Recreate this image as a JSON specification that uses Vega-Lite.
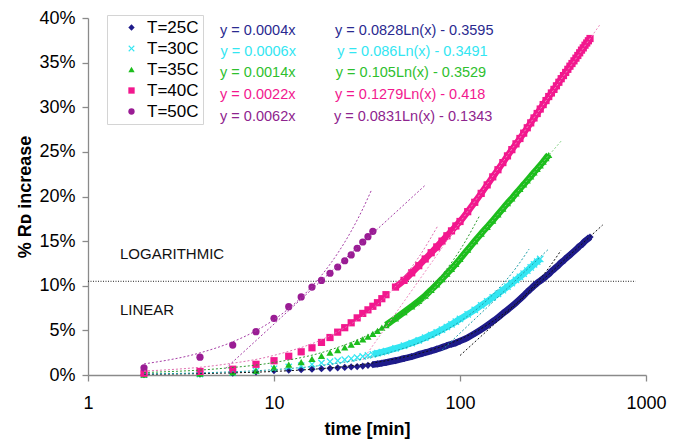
{
"$schema": "https://vega.github.io/schema/vega-lite/v6.json",
"width": 558, "height": 357,
"autosize": {"type": "none"},
"padding": {"left": 88, "top": 18, "right": 33, "bottom": 66},
"background": "white",
"config": {"font": "Liberation Sans", "view": {"stroke": null},
 "axis": {"grid": false, "domainColor": "#8a8a8a", "tickColor": "#8a8a8a", "domainWidth": 1.3, "tickWidth": 1.3, "tickSize": 6, "labelFont": "Liberation Sans", "labelFontSize": 18, "labelColor": "#000", "titleFont": "Liberation Sans", "titleFontSize": 18, "titleFontWeight": "bold", "titleColor": "#000"}},
"datasets": {
"pts": [
{"s":"T=25C","t":2,"v":0.0005},{"s":"T=25C","t":4,"v":0.001},{"s":"T=25C","t":6,"v":0.002},{"s":"T=25C","t":8,"v":0.0035},{"s":"T=25C","t":10,"v":0.005},{"s":"T=25C","t":12,"v":0.0055},{"s":"T=25C","t":14,"v":0.006},{"s":"T=25C","t":16,"v":0.0065},{"s":"T=25C","t":18,"v":0.007},{"s":"T=25C","t":20,"v":0.0075},{"s":"T=25C","t":22,"v":0.008},{"s":"T=25C","t":24,"v":0.0085},{"s":"T=25C","t":26,"v":0.009},{"s":"T=25C","t":28,"v":0.0095},{"s":"T=25C","t":30,"v":0.01},{"s":"T=25C","t":32,"v":0.0108},{"s":"T=25C","t":34,"v":0.0116},{"s":"T=25C","t":36,"v":0.0124},{"s":"T=25C","t":38,"v":0.0132},{"s":"T=25C","t":40,"v":0.014},{"s":"T=25C","t":45,"v":0.0162},{"s":"T=25C","t":50,"v":0.0185},{"s":"T=25C","t":55,"v":0.0205},{"s":"T=25C","t":60,"v":0.023},{"s":"T=25C","t":65,"v":0.025},{"s":"T=25C","t":70,"v":0.027},{"s":"T=25C","t":75,"v":0.029},{"s":"T=25C","t":80,"v":0.031},{"s":"T=25C","t":85,"v":0.033},{"s":"T=25C","t":90,"v":0.0345},{"s":"T=25C","t":95,"v":0.036},{"s":"T=25C","t":100,"v":0.038},{"s":"T=25C","t":110,"v":0.042},{"s":"T=25C","t":120,"v":0.0465},{"s":"T=25C","t":130,"v":0.051},{"s":"T=25C","t":140,"v":0.0555},{"s":"T=25C","t":150,"v":0.06},{"s":"T=25C","t":160,"v":0.0645},{"s":"T=25C","t":170,"v":0.069},{"s":"T=25C","t":180,"v":0.073},{"s":"T=25C","t":190,"v":0.077},{"s":"T=25C","t":200,"v":0.081},{"s":"T=25C","t":210,"v":0.085},{"s":"T=25C","t":220,"v":0.089},{"s":"T=25C","t":230,"v":0.093},{"s":"T=25C","t":240,"v":0.0965},{"s":"T=25C","t":250,"v":0.1},{"s":"T=25C","t":260,"v":0.103},{"s":"T=25C","t":270,"v":0.1055},{"s":"T=25C","t":280,"v":0.108},{"s":"T=25C","t":290,"v":0.1105},{"s":"T=25C","t":300,"v":0.113},{"s":"T=25C","t":310,"v":0.116},{"s":"T=25C","t":320,"v":0.1185},{"s":"T=25C","t":330,"v":0.121},{"s":"T=25C","t":340,"v":0.1235},{"s":"T=25C","t":350,"v":0.126},{"s":"T=25C","t":360,"v":0.128},{"s":"T=25C","t":370,"v":0.1305},{"s":"T=25C","t":380,"v":0.1325},{"s":"T=25C","t":390,"v":0.1345},{"s":"T=25C","t":400,"v":0.1365},{"s":"T=25C","t":410,"v":0.1385},{"s":"T=25C","t":420,"v":0.1405},{"s":"T=25C","t":430,"v":0.1425},{"s":"T=25C","t":440,"v":0.1445},{"s":"T=25C","t":450,"v":0.146},{"s":"T=25C","t":460,"v":0.148},{"s":"T=25C","t":470,"v":0.15},{"s":"T=25C","t":480,"v":0.1515},{"s":"T=25C","t":490,"v":0.153},{"s":"T=25C","t":500,"v":0.1545},
{"s":"T=30C","t":2,"v":0.0005},{"s":"T=30C","t":4,"v":0.001},{"s":"T=30C","t":6,"v":0.0025},{"s":"T=30C","t":8,"v":0.0045},{"s":"T=30C","t":10,"v":0.007},{"s":"T=30C","t":12,"v":0.009},{"s":"T=30C","t":14,"v":0.0105},{"s":"T=30C","t":16,"v":0.012},{"s":"T=30C","t":18,"v":0.0135},{"s":"T=30C","t":20,"v":0.015},{"s":"T=30C","t":22,"v":0.016},{"s":"T=30C","t":24,"v":0.0172},{"s":"T=30C","t":26,"v":0.0184},{"s":"T=30C","t":28,"v":0.0196},{"s":"T=30C","t":30,"v":0.0208},{"s":"T=30C","t":32,"v":0.022},{"s":"T=30C","t":34,"v":0.0232},{"s":"T=30C","t":36,"v":0.0244},{"s":"T=30C","t":38,"v":0.0256},{"s":"T=30C","t":40,"v":0.0268},{"s":"T=30C","t":45,"v":0.0298},{"s":"T=30C","t":50,"v":0.0328},{"s":"T=30C","t":55,"v":0.0358},{"s":"T=30C","t":60,"v":0.0388},{"s":"T=30C","t":65,"v":0.0418},{"s":"T=30C","t":70,"v":0.0448},{"s":"T=30C","t":75,"v":0.0478},{"s":"T=30C","t":80,"v":0.0508},{"s":"T=30C","t":85,"v":0.0538},{"s":"T=30C","t":90,"v":0.0568},{"s":"T=30C","t":95,"v":0.0598},{"s":"T=30C","t":100,"v":0.0628},{"s":"T=30C","t":110,"v":0.068},{"s":"T=30C","t":120,"v":0.073},{"s":"T=30C","t":130,"v":0.078},{"s":"T=30C","t":140,"v":0.0825},{"s":"T=30C","t":150,"v":0.087},{"s":"T=30C","t":160,"v":0.091},{"s":"T=30C","t":170,"v":0.095},{"s":"T=30C","t":180,"v":0.099},{"s":"T=30C","t":190,"v":0.103},{"s":"T=30C","t":200,"v":0.1065},{"s":"T=30C","t":210,"v":0.11},{"s":"T=30C","t":220,"v":0.1135},{"s":"T=30C","t":230,"v":0.117},{"s":"T=30C","t":240,"v":0.1205},{"s":"T=30C","t":250,"v":0.124},{"s":"T=30C","t":260,"v":0.127},{"s":"T=30C","t":270,"v":0.13},
{"s":"T=35C","t":2,"v":0.0005},{"s":"T=35C","t":4,"v":0.0015},{"s":"T=35C","t":6,"v":0.003},{"s":"T=35C","t":8,"v":0.005},{"s":"T=35C","t":10,"v":0.0085},{"s":"T=35C","t":12,"v":0.0115},{"s":"T=35C","t":14,"v":0.0145},{"s":"T=35C","t":16,"v":0.018},{"s":"T=35C","t":18,"v":0.0215},{"s":"T=35C","t":20,"v":0.025},{"s":"T=35C","t":22,"v":0.028},{"s":"T=35C","t":24,"v":0.031},{"s":"T=35C","t":26,"v":0.034},{"s":"T=35C","t":28,"v":0.037},{"s":"T=35C","t":30,"v":0.04},{"s":"T=35C","t":32,"v":0.043},{"s":"T=35C","t":34,"v":0.046},{"s":"T=35C","t":36,"v":0.0495},{"s":"T=35C","t":38,"v":0.053},{"s":"T=35C","t":40,"v":0.056},{"s":"T=35C","t":45,"v":0.0635},{"s":"T=35C","t":50,"v":0.0705},{"s":"T=35C","t":55,"v":0.077},{"s":"T=35C","t":60,"v":0.083},{"s":"T=35C","t":65,"v":0.089},{"s":"T=35C","t":70,"v":0.0955},{"s":"T=35C","t":75,"v":0.1015},{"s":"T=35C","t":80,"v":0.1075},{"s":"T=35C","t":85,"v":0.1135},{"s":"T=35C","t":90,"v":0.119},{"s":"T=35C","t":95,"v":0.1245},{"s":"T=35C","t":100,"v":0.13},{"s":"T=35C","t":110,"v":0.1405},{"s":"T=35C","t":120,"v":0.15},{"s":"T=35C","t":130,"v":0.1585},{"s":"T=35C","t":140,"v":0.166},{"s":"T=35C","t":150,"v":0.173},{"s":"T=35C","t":160,"v":0.18},{"s":"T=35C","t":170,"v":0.1865},{"s":"T=35C","t":180,"v":0.1925},{"s":"T=35C","t":190,"v":0.198},{"s":"T=35C","t":200,"v":0.2035},{"s":"T=35C","t":210,"v":0.2085},{"s":"T=35C","t":220,"v":0.2135},{"s":"T=35C","t":230,"v":0.218},{"s":"T=35C","t":240,"v":0.2225},{"s":"T=35C","t":250,"v":0.227},{"s":"T=35C","t":260,"v":0.231},{"s":"T=35C","t":270,"v":0.235},{"s":"T=35C","t":280,"v":0.239},{"s":"T=35C","t":290,"v":0.243},{"s":"T=35C","t":300,"v":0.2465},
{"s":"T=40C","t":2,"v":0.002},{"s":"T=40C","t":4,"v":0.004},{"s":"T=40C","t":6,"v":0.0065},{"s":"T=40C","t":8,"v":0.012},{"s":"T=40C","t":10,"v":0.016},{"s":"T=40C","t":12,"v":0.021},{"s":"T=40C","t":14,"v":0.026},{"s":"T=40C","t":16,"v":0.0305},{"s":"T=40C","t":18,"v":0.0365},{"s":"T=40C","t":20,"v":0.042},{"s":"T=40C","t":22,"v":0.048},{"s":"T=40C","t":24,"v":0.053},{"s":"T=40C","t":26,"v":0.0585},{"s":"T=40C","t":28,"v":0.064},{"s":"T=40C","t":30,"v":0.069},{"s":"T=40C","t":32,"v":0.073},{"s":"T=40C","t":34,"v":0.077},{"s":"T=40C","t":36,"v":0.081},{"s":"T=40C","t":38,"v":0.0855},{"s":"T=40C","t":40,"v":0.09},{"s":"T=40C","t":45,"v":0.0985},{"s":"T=40C","t":50,"v":0.106},{"s":"T=40C","t":55,"v":0.1145},{"s":"T=40C","t":60,"v":0.1225},{"s":"T=40C","t":65,"v":0.13},{"s":"T=40C","t":70,"v":0.137},{"s":"T=40C","t":75,"v":0.1435},{"s":"T=40C","t":80,"v":0.15},{"s":"T=40C","t":85,"v":0.156},{"s":"T=40C","t":90,"v":0.1615},{"s":"T=40C","t":95,"v":0.167},{"s":"T=40C","t":100,"v":0.172},{"s":"T=40C","t":110,"v":0.183},{"s":"T=40C","t":120,"v":0.1935},{"s":"T=40C","t":130,"v":0.2035},{"s":"T=40C","t":140,"v":0.213},{"s":"T=40C","t":150,"v":0.222},{"s":"T=40C","t":160,"v":0.23},{"s":"T=40C","t":170,"v":0.238},{"s":"T=40C","t":180,"v":0.2455},{"s":"T=40C","t":190,"v":0.2525},{"s":"T=40C","t":200,"v":0.259},{"s":"T=40C","t":210,"v":0.265},{"s":"T=40C","t":220,"v":0.271},{"s":"T=40C","t":230,"v":0.277},{"s":"T=40C","t":240,"v":0.2825},{"s":"T=40C","t":250,"v":0.288},{"s":"T=40C","t":260,"v":0.293},{"s":"T=40C","t":270,"v":0.298},{"s":"T=40C","t":280,"v":0.303},{"s":"T=40C","t":290,"v":0.3075},{"s":"T=40C","t":300,"v":0.312},{"s":"T=40C","t":310,"v":0.316},{"s":"T=40C","t":320,"v":0.32},{"s":"T=40C","t":330,"v":0.324},{"s":"T=40C","t":340,"v":0.328},{"s":"T=40C","t":350,"v":0.332},{"s":"T=40C","t":360,"v":0.3355},{"s":"T=40C","t":370,"v":0.339},{"s":"T=40C","t":380,"v":0.3425},{"s":"T=40C","t":390,"v":0.346},{"s":"T=40C","t":400,"v":0.349},{"s":"T=40C","t":410,"v":0.352},{"s":"T=40C","t":420,"v":0.355},{"s":"T=40C","t":430,"v":0.358},{"s":"T=40C","t":440,"v":0.361},{"s":"T=40C","t":450,"v":0.364},{"s":"T=40C","t":460,"v":0.3665},{"s":"T=40C","t":470,"v":0.3695},{"s":"T=40C","t":480,"v":0.372},{"s":"T=40C","t":490,"v":0.3745},{"s":"T=40C","t":500,"v":0.377},
{"s":"T=50C","t":2,"v":0.008},{"s":"T=50C","t":4,"v":0.02},{"s":"T=50C","t":6,"v":0.0335},{"s":"T=50C","t":8,"v":0.0485},{"s":"T=50C","t":10,"v":0.0635},{"s":"T=50C","t":12,"v":0.0765},{"s":"T=50C","t":14,"v":0.0875},{"s":"T=50C","t":16,"v":0.0985},{"s":"T=50C","t":18,"v":0.106},{"s":"T=50C","t":20,"v":0.114},{"s":"T=50C","t":22,"v":0.121},{"s":"T=50C","t":24,"v":0.128},{"s":"T=50C","t":26,"v":0.1345},{"s":"T=50C","t":28,"v":0.142},{"s":"T=50C","t":30,"v":0.149},{"s":"T=50C","t":32,"v":0.155},{"s":"T=50C","t":34,"v":0.161}
],
"fits": [
{"f":"L25","t":2,"v":0.0008},{"f":"L25","t":5,"v":0.002},{"f":"L25","t":10,"v":0.004},{"f":"L25","t":20,"v":0.008},{"f":"L25","t":40,"v":0.016},{"f":"L25","t":70,"v":0.028},{"f":"L25","t":100,"v":0.04},{"f":"L25","t":150,"v":0.06},{"f":"L25","t":200,"v":0.08},{"f":"L25","t":250,"v":0.1},{"f":"L25","t":300,"v":0.12},{"f":"L25","t":349,"v":0.1396},
{"f":"G25","t":100,"v":0.0218},{"f":"G25","t":585,"v":0.1681},
{"f":"L30","t":2,"v":0.0012},{"f":"L30","t":5,"v":0.003},{"f":"L30","t":10,"v":0.006},{"f":"L30","t":20,"v":0.012},{"f":"L30","t":40,"v":0.024},{"f":"L30","t":70,"v":0.042},{"f":"L30","t":100,"v":0.06},{"f":"L30","t":150,"v":0.09},{"f":"L30","t":200,"v":0.12},{"f":"L30","t":235,"v":0.141},
{"f":"G30","t":80,"v":0.0277},{"f":"G30","t":302,"v":0.1418},
{"f":"L35","t":2,"v":0.0028},{"f":"L35","t":5,"v":0.007},{"f":"L35","t":10,"v":0.014},{"f":"L35","t":20,"v":0.028},{"f":"L35","t":40,"v":0.056},{"f":"L35","t":60,"v":0.084},{"f":"L35","t":80,"v":0.112},{"f":"L35","t":100,"v":0.14},{"f":"L35","t":128,"v":0.1792},
{"f":"G35","t":60,"v":0.077},{"f":"G35","t":351,"v":0.2625},
{"f":"L40","t":2,"v":0.0044},{"f":"L40","t":5,"v":0.011},{"f":"L40","t":10,"v":0.022},{"f":"L40","t":20,"v":0.044},{"f":"L40","t":30,"v":0.066},{"f":"L40","t":40,"v":0.088},{"f":"L40","t":50,"v":0.11},{"f":"L40","t":60,"v":0.132},{"f":"L40","t":76,"v":0.1672},
{"f":"G40","t":30,"v":0.017},{"f":"G40","t":563,"v":0.392},
{"f":"L50","t":2,"v":0.0124},{"f":"L50","t":4,"v":0.0248},{"f":"L50","t":6,"v":0.0372},{"f":"L50","t":8,"v":0.0496},{"f":"L50","t":10,"v":0.062},{"f":"L50","t":14,"v":0.0868},{"f":"L50","t":18,"v":0.1116},{"f":"L50","t":22,"v":0.1364},{"f":"L50","t":26,"v":0.1612},{"f":"L50","t":30,"v":0.186},{"f":"L50","t":33.5,"v":0.2077},
{"f":"G50","t":5.5,"v":0.0074},{"f":"G50","t":65,"v":0.2126}
],
"eqs": [
{"s":"T=25C","eq":"y = 0.0004x","t":5.13,"v":0.3858},
{"s":"T=30C","eq":"y = 0.0006x","t":5.16,"v":0.3622},
{"s":"T=35C","eq":"y = 0.0014x","t":5.13,"v":0.3387},
{"s":"T=40C","eq":"y = 0.0022x","t":5.13,"v":0.3137},
{"s":"T=50C","eq":"y = 0.0062x","t":5.13,"v":0.2894},
{"s":"T=25C","eq":"y = 0.0828Ln(x) - 0.3595","t":21.3,"v":0.3858},
{"s":"T=30C","eq":"y = 0.086Ln(x) - 0.3491","t":21.9,"v":0.3622},
{"s":"T=35C","eq":"y = 0.105Ln(x) - 0.3529","t":21.5,"v":0.3387},
{"s":"T=40C","eq":"y = 0.1279Ln(x) - 0.418","t":21.3,"v":0.3137},
{"s":"T=50C","eq":"y = 0.0831Ln(x) - 0.1343","t":21.0,"v":0.2894}
],
"notes": [
{"txt":"LOGARITHMIC","t":1.486,"v":0.1356},
{"txt":"LINEAR","t":1.486,"v":0.0728}
],
"hline": [{"t":1,"t2":880,"v":0.105}]
},
"encoding": {
 "x": {"field": "t", "type": "quantitative", "title": "time [min]",
  "scale": {"type": "log", "domain": [1, 1000], "nice": false},
  "axis": {"values": [1, 10, 100, 1000], "format": "d", "labelPadding": 13, "titlePadding": 8, "labelFlush": false}},
 "y": {"field": "v", "type": "quantitative", "title": "% Rᴅ increase",
  "scale": {"domain": [0, 0.4], "nice": false, "zero": true},
  "axis": {"values": [0, 0.05, 0.1, 0.15, 0.2, 0.25, 0.3, 0.35, 0.4], "format": ".0%", "labelPadding": 7}}
},
"layer": [
 {"data": {"name": "hline"}, "mark": {"type": "rule", "color": "#222", "strokeWidth": 1, "strokeDash": [1, 1.5]},
  "encoding": {"x2": {"field": "t2"}}},
 {"data": {"name": "pts"}, "transform": [{"filter": "(datum.s == 'T=40C' && datum.t >= 45) || (datum.s == 'T=35C' && datum.t >= 40) || (datum.s == 'T=30C' && datum.t >= 34) || (datum.s == 'T=25C' && datum.t >= 34)"}],
  "mark": {"type": "line", "strokeWidth": 6.5, "interpolate": "monotone"},
  "encoding": {
   "color": {"field": "s", "type": "nominal", "legend": null,
    "scale": {"domain": ["T=25C", "T=30C", "T=35C", "T=40C", "T=50C"], "range": ["#1E1B8A", "#33E6F2", "#1DBE1D", "#F2188E", "#9A1C94"]}}}},
 {"data": {"name": "pts"}, "mark": {"type": "point", "filled": true, "size": 52, "opacity": 1},
  "encoding": {
   "color": {"field": "s", "type": "nominal",
    "scale": {"domain": ["T=25C", "T=30C", "T=35C", "T=40C", "T=50C"], "range": ["#1E1B8A", "#33E6F2", "#1DBE1D", "#F2188E", "#9A1C94"]},
    "legend": {"title": null, "orient": "none", "legendX": 19, "legendY": -3, "padding": 4, "strokeColor": "#d4d4d4", "fillColor": "#ffffff", "labelFontSize": 17, "labelFont": "Liberation Sans", "labelColor": "#000", "symbolSize": 40, "symbolOffset": 12, "labelOffset": 7, "rowPadding": 3, "symbolStrokeWidth": 0}},
   "shape": {"field": "s", "type": "nominal",
    "scale": {"domain": ["T=25C", "T=30C", "T=35C", "T=40C", "T=50C"], "range": ["diamond", "M-1,-0.75L-0.75,-1L0,-0.25L0.75,-1L1,-0.75L0.25,0L1,0.75L0.75,1L0,0.25L-0.75,1L-1,0.75L-0.25,0Z", "triangle-up", "square", "circle"]},
    "legend": {"title": null, "orient": "none", "legendX": 19, "legendY": -3, "padding": 4, "strokeColor": "#d4d4d4", "fillColor": "#ffffff", "labelFontSize": 17, "labelFont": "Liberation Sans", "labelColor": "#000", "symbolSize": 40, "symbolOffset": 12, "labelOffset": 7, "rowPadding": 3, "symbolStrokeWidth": 0}}
  }},
 {"data": {"name": "fits"}, "mark": {"type": "line", "strokeWidth": 1, "strokeDash": [2, 2], "interpolate": "monotone"},
  "encoding": {
   "color": {"field": "f", "type": "nominal", "legend": null,
    "scale": {"domain": ["L25", "G25", "L30", "G30", "L35", "G35", "L40", "G40", "L50", "G50"], "range": ["#111111", "#111111", "#1E9EA8", "#1E9EA8", "#2F9A2F", "#80D080", "#E070B0", "#F08CC0", "#A53CA5", "#A53CA5"]}}
  }},
 {"data": {"name": "eqs"}, "mark": {"type": "text", "align": "left", "baseline": "middle", "fontSize": 14.5, "font": "Liberation Sans"},
  "encoding": {"text": {"field": "eq"},
   "color": {"field": "s", "type": "nominal", "legend": null,
    "scale": {"domain": ["T=25C", "T=30C", "T=35C", "T=40C", "T=50C"], "range": ["#2A2A90", "#33E6F2", "#2EC02E", "#F2188E", "#8E248E"]}}}},
 {"data": {"name": "notes"}, "mark": {"type": "text", "align": "left", "baseline": "middle", "fontSize": 15, "font": "Liberation Sans", "color": "#111"},
  "encoding": {"text": {"field": "txt"}}}
],
"resolve": {"scale": {"color": "independent", "shape": "independent"}, "legend": {"color": "independent", "shape": "independent"}}
}
